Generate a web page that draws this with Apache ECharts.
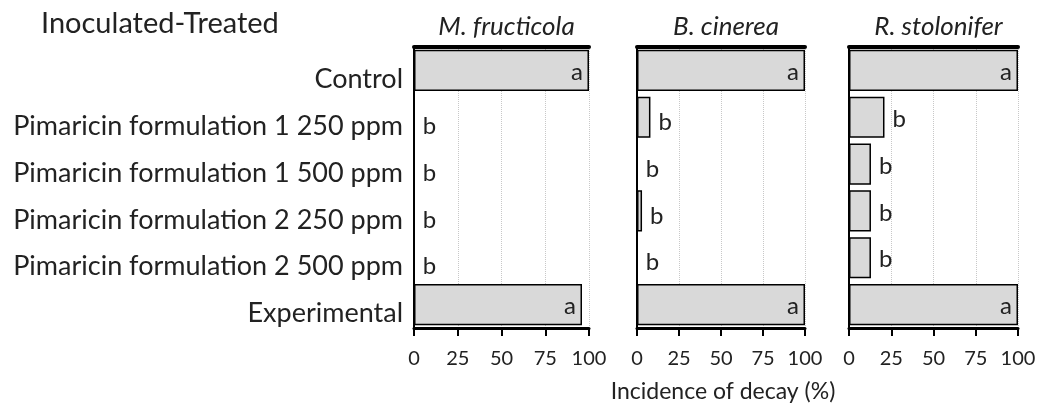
<!DOCTYPE html>
<html>
<head>
<meta charset="utf-8">
<script src="https://cdn.jsdelivr.net/npm/echarts@6/dist/echarts.min.js"></script>
<style>
  html, body { margin: 0; padding: 0; background: #fff; }
  #chart { width: 1039px; height: 404px; }
</style>
</head>
<body>
<div id="chart"></div>
<script>
// treatments, top to bottom
const treatments = ['Control', 'Pimaricin formulation 1 250 ppm', 'Pimaricin formulation 1 500 ppm',
  'Pimaricin formulation 2 250 ppm', 'Pimaricin formulation 2 500 ppm', 'Experimental']
const pathogens = ['M. fructicola', 'B. cinerea', 'R. stolonifer']
const ticks = [0, 25, 50, 75, 100]

// incidence of decay (%)
const fructicola = [100, 0, 0, 0, 0, 96]
const cinerea = [100, 8, 0, 3, 0, 100]
const stolonifer = [100, 21, 13, 13, 13, 100]

// letters of significance
const lettersM = ['a', 'b', 'b', 'b', 'b', 'a']
const lettersB = ['a', 'b', 'b', 'b', 'b', 'a']
const lettersR = ['a', 'b', 'b', 'b', 'b', 'a']

const font = 'Lato, "Open Sans", sans-serif'
const panels = [
  {left: 414, right: 450, values: fructicola, letters: lettersM, drop: 9},
  {left: 637, right: 234, values: cinerea, letters: lettersB, drop: 5},
  {left: 849, right: 21, values: stolonifer, letters: lettersR, drop: 2},
]

const myChart = echarts.init(document.getElementById('chart'))

const grid = panels.map(p => ({left: p.left, right: p.right, top: 47, bottom: 76}))

const xAxis = []
panels.forEach((p, i) => {
  xAxis.push({
    type: 'value', gridIndex: i, min: ticks[0], max: ticks[ticks.length - 1], interval: 25,
    axisLine: {show: true, lineStyle: {color: '#000', width: 3}},
    axisTick: {show: true, length: 8, lineStyle: {color: '#000', width: 2}},
    axisLabel: {color: '#222', fontSize: 20, fontFamily: font, margin: 21},
    splitLine: {show: true, lineStyle: {color: '#c8c8c8', type: 'dotted', width: 1}}
  })
  xAxis.push({
    type: 'value', gridIndex: i, position: 'top', min: 0, max: 100,
    axisLine: {show: true, lineStyle: {color: '#000', width: 4}},
    axisTick: {show: false}, axisLabel: {show: false}, splitLine: {show: false}
  })
})

const yAxis = []
panels.forEach((p, i) => {
  yAxis.push({
    type: 'category', gridIndex: i, data: treatments, inverse: true,
    axisLine: {show: true, lineStyle: {color: '#000', width: 2}},
    axisTick: {show: false},
    // labels sit a little below the bar centres in the original
    axisLabel: {show: i === 0, color: '#222', fontSize: 27, fontFamily: font, margin: 11,
      verticalAlign: 'top', lineHeight: 18}
  })
  yAxis.push({
    type: 'category', gridIndex: i, data: treatments, inverse: true, position: 'right',
    axisLine: {show: true, lineStyle: {color: '#000', width: 2}},
    axisTick: {show: false}, axisLabel: {show: false}
  })
})

const series = panels.map((p, i) => ({
  type: 'bar', xAxisIndex: i * 2, yAxisIndex: i * 2,
  barCategoryGap: '12%',
  itemStyle: {color: '#d9d9d9', borderColor: '#000', borderWidth: 1.5},
  data: p.values.map((v, j) => ({
    value: v,
    label: {
      show: true, formatter: p.letters[j],
      position: v >= 90 ? 'insideRight' : 'right',
      distance: v >= 90 ? 6 : 8,
      offset: v >= 90 ? [0, 2] : [0, p.drop],
      color: '#222', fontSize: 24, fontFamily: font
    }
  }))
}))

const title = [
  {text: 'Inoculated-Treated', left: 36, top: 4,
    textStyle: {fontSize: 29, fontWeight: 'normal', color: '#222', fontFamily: font}},
  {text: 'Incidence of decay (%)', left: 718, top: 375, textAlign: 'center',
    textStyle: {fontSize: 23, fontWeight: 'normal', color: '#222', fontFamily: font}}
]
panels.forEach((p, i) => {
  title.push({
    text: pathogens[i], left: p.left + (1039 - p.right - p.left) / 2, top: 9, textAlign: 'center',
    textStyle: {fontSize: 26, fontWeight: 'normal', fontStyle: 'italic', color: '#222', fontFamily: font}
  })
})

myChart.setOption({animation: false, title, grid, xAxis, yAxis, series})
</script>
</body>
</html>
